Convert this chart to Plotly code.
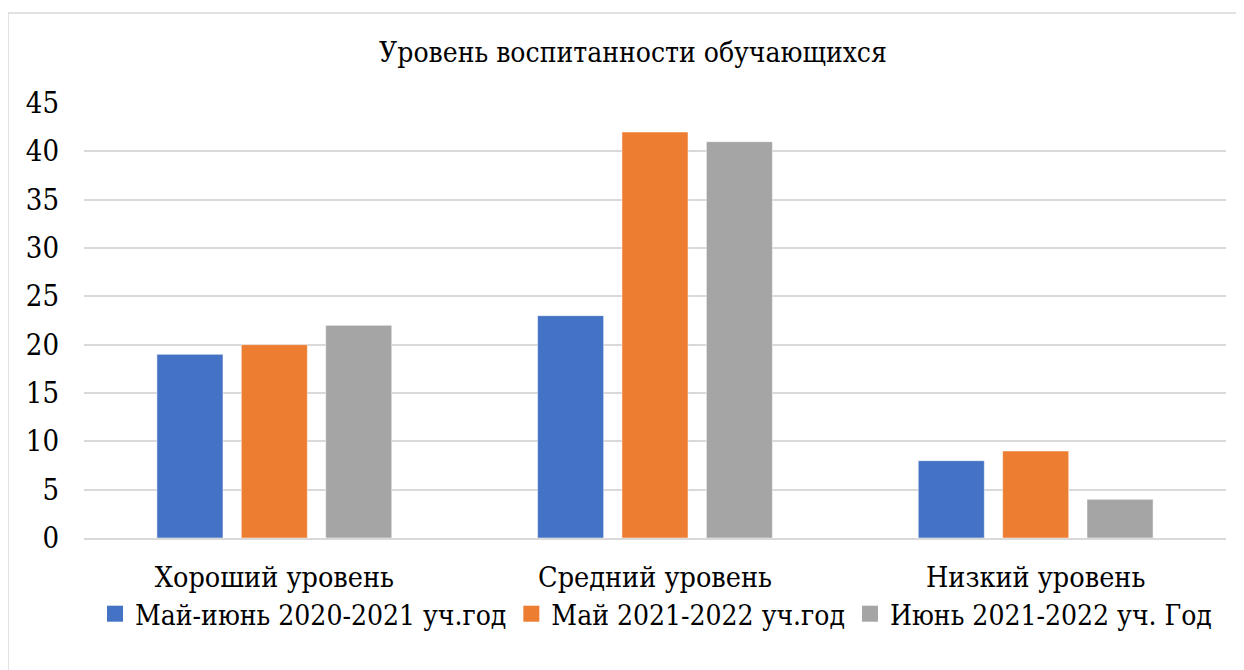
import plotly.graph_objects as go

categories = ["Хороший уровень", "Средний уровень", "Низкий уровень"]
series_names = ["Май-июнь 2020-2021 уч.год", "Май 2021-2022 уч.год", "Июнь 2021-2022 уч. Год"]
values_2020_2021 = [19, 23, 8]
values_may_2022 = [20, 42, 9]
values_june_2022 = [22, 41, 4]
colors = ["#4472C4", "#ED7D31", "#A5A5A5"]
y_ticks = [0, 5, 10, 15, 20, 25, 30, 35, 40, 45]

OFF = 8  # page body margin
W, H = 1244 - OFF, 670 - OFF
L, R, T, B = 84 - OFF, 18, 103 - OFF, 132
pw = W - L - R
ph = H - T - B

FF = "DejaVu Serif Condensed"

fig = go.Figure()
for name, vals, col in zip(series_names, [values_2020_2021, values_may_2022, values_june_2022], colors):
    fig.add_trace(go.Bar(x=categories, y=vals, name=name, legendgroup=name, showlegend=False,
                         marker=dict(color=col, line=dict(color="rgba(255,255,255,0.5)", width=1))))
# legend entries with larger square swatches
for name, col in zip(series_names, colors):
    fig.add_trace(go.Scatter(x=[None], y=[None], mode="markers", name=name, legendgroup=name,
                             marker=dict(symbol="square", size=18, color=col), hoverinfo="skip"))

fig.update_layout(
    width=W, height=H,
    margin=dict(l=L, r=R, t=T, b=B),
    paper_bgcolor="white", plot_bgcolor="white",
    barmode="group", bargap=0.335, bargroupgap=0.217,
    font=dict(family=FF, color="#000000", size=28),
    title=dict(text="Уровень воспитанности обучающихся",
               font=dict(family=FF, size=28, color="#000000"),
               x=(633 - 84) / pw, xref="paper", xanchor="center",
               y=1 - (52 - OFF) / H, yref="container", yanchor="middle"),
    xaxis=dict(showgrid=False, showline=True, linecolor="#d9d9d9", linewidth=1.5,
               tickfont=dict(family=FF, size=28.5), ticks="", ticklabelstandoff=13),
    yaxis=dict(range=[0, 45], tickvals=y_ticks, showgrid=True, gridcolor="#d9d9d9",
               gridwidth=1.5, zeroline=False, showline=False,
               tickfont=dict(family=FF, size=29), ticks="", ticklabelstandoff=24),
    legend=dict(orientation="h", x=(656 - 84) / pw, xanchor="center",
                y=(538 - 614) / ph, yanchor="middle", bgcolor="rgba(0,0,0,0)",
                font=dict(family=FF, size=28), itemclick=False, itemdoubleclick=False),
    showlegend=True,
    shapes=[dict(type="rect", xref="paper", yref="paper",
                 x0=(8 - 84) / pw, x1=1.2, y0=-0.6, y1=(538 - 13) / ph,
                 line=dict(color="#d9d9d9", width=1.5), fillcolor="rgba(0,0,0,0)",
                 layer="below")],
)

fig.write_html("out.html")
